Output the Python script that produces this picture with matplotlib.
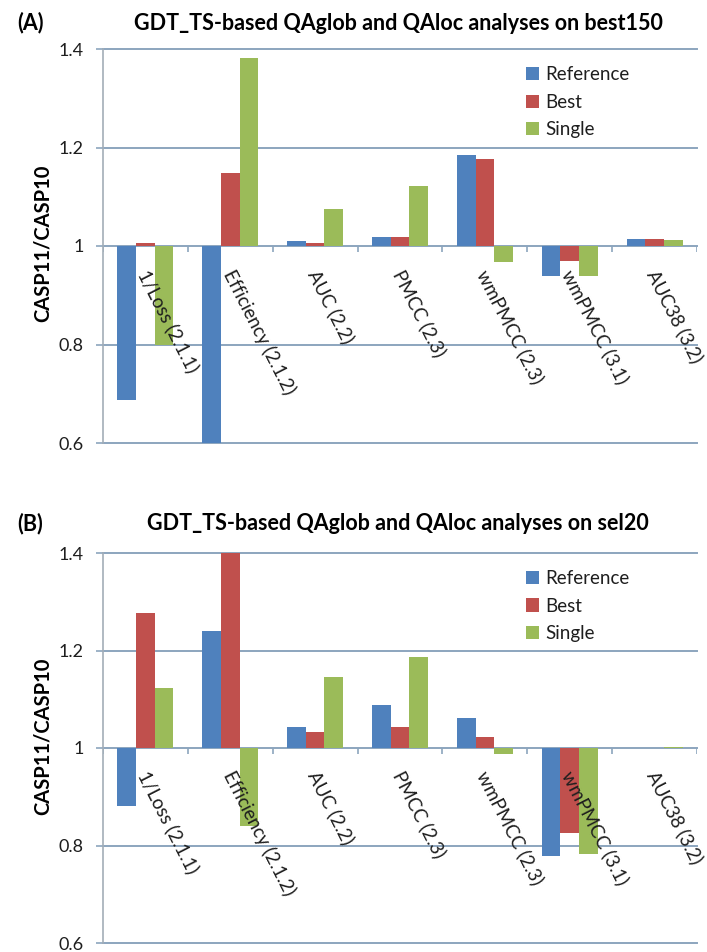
import numpy as np
import matplotlib.pyplot as plt

plt.rcParams['font.family'] = ['Lato', 'DejaVu Sans']

# Measures on the x axis
measures = ['1/Loss (2.1.1)', 'Efficiency (2.1.2)', 'AUC (2.2)', 'PMCC (2.3)',
            'wmPMCC (2.3)', 'wmPMCC (3.1)', 'AUC38 (3.2)']
series = ['Reference', 'Best', 'Single']

# CASP11/CASP10 ratios, best150 set
best150_reference = [0.687, 0.590, 1.011, 1.018, 1.184, 0.939, 1.014]
best150_best = [1.007, 1.149, 1.007, 1.018, 1.177, 0.969, 1.014]
best150_single = [0.800, 1.382, 1.075, 1.121, 0.967, 0.939, 1.012]

# CASP11/CASP10 ratios, sel20 set
sel20_reference = [0.882, 1.239, 1.044, 1.088, 1.061, 0.779, 1.000]
sel20_best = [1.277, 1.410, 1.033, 1.043, 1.022, 0.825, 1.000]
sel20_single = [1.124, 0.839, 1.145, 1.186, 0.988, 0.782, 1.002]

colors = ['#4F81BD', '#C0504D', '#9BBB59']
grid_color = '#8CA5BE'
text_color = '#1E1E1E'

W, H = 707, 952
fig = plt.figure(figsize=(W / 100, H / 100), dpi=100)


def draw_panel(ax, data, title, tag, title_y, ylabel_y):
    x = np.arange(len(measures))
    width = 0.22
    for k, (vals, name) in enumerate(zip(data, series)):
        vals = np.asarray(vals)
        ax.bar(x + (k - 1) * width, vals - 1, width, bottom=1,
               color=colors[k], label=name, zorder=3)

    ax.set_xlim(-0.5, len(measures) - 0.5)
    ax.set_ylim(0.6, 1.4)
    yt = [0.6, 0.8, 1.0, 1.2, 1.4]
    ax.set_yticks(yt)
    ax.set_yticklabels(['0.6', '0.8', '1', '1.2', '1.4'], fontsize=13,
                       color=text_color)
    ax.set_xticks([])
    for y in yt:
        ax.axhline(y, color=grid_color, lw=1.4, zorder=1, clip_on=False)
    ax.tick_params(axis='y', length=5, width=1.2, color=grid_color, pad=9)

    for s in ['top', 'right', 'bottom']:
        ax.spines[s].set_visible(False)
    ax.spines['left'].set_color('#A3AEB8')
    ax.spines['left'].set_linewidth(1.2)

    # category ticks hanging below the ratio = 1 line
    bounds = np.arange(len(measures) + 1) - 0.5
    ax.vlines(bounds, 0.988, 1.0, color=grid_color, lw=1.2, zorder=2)

    for i, m in enumerate(measures):
        ax.text(i - 0.03, 0.95, m, rotation=-63, rotation_mode='anchor',
                ha='left', va='center', fontsize=13.5, color=text_color,
                zorder=5)

    leg = ax.legend(loc='upper left', bbox_to_anchor=(0.70, 0.975),
                    frameon=False, fontsize=13.5, handlelength=0.7,
                    handleheight=0.7, handletextpad=0.3, labelspacing=0.55,
                    borderaxespad=0)
    for t in leg.get_texts():
        t.set_color(text_color)

    fig.text(30 / W, 1 - title_y / H, tag, fontsize=15.5, fontweight='bold',
             ha='center', va='center')
    fig.text(398 / W, 1 - title_y / H, title, fontsize=15.5,
             fontweight='bold', ha='center', va='center')
    fig.text(43 / W, 1 - ylabel_y / H, 'CASP11/CASP10', fontsize=14.5,
             fontweight='bold', rotation=90, ha='center', va='center')


axA = fig.add_axes([103 / W, 1 - 443 / H, 594 / W, 394 / H])
draw_panel(axA, [best150_reference, best150_best, best150_single],
           'GDT_TS-based QAglob and QAloc analyses on best150', '(A)',
           23, 243)

axB = fig.add_axes([103 / W, 1 - 943 / H, 594 / W, 390 / H])
draw_panel(axB, [sel20_reference, sel20_best, sel20_single],
           'GDT_TS-based QAglob and QAloc analyses on sel20', '(B)',
           524, 736)

fig.savefig('out.png', dpi=100)
